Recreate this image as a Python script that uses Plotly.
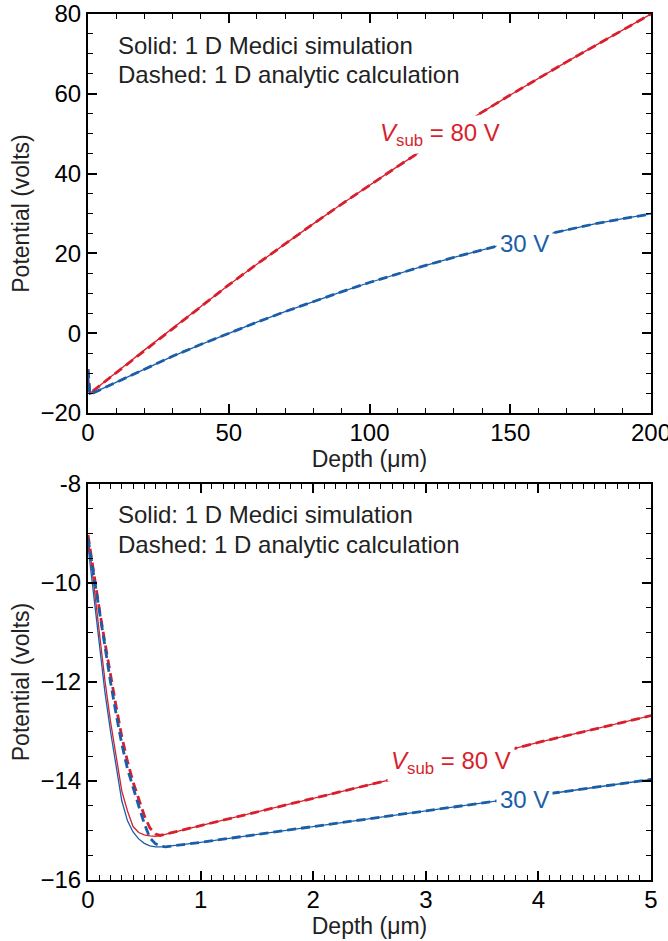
import plotly.graph_objects as go

# ---- Potential vs depth, V_sub = 80 V ----
red_sim_depth = [0, 0.05, 0.1, 0.15, 0.2, 0.25, 0.3, 0.35, 0.4, 0.45, 0.5, 0.55, 0.6, 0.65,
                 1, 2, 3, 4, 5, 10, 20, 30, 40, 50, 60, 70, 80, 90, 100,
                 110, 120, 130, 140, 150, 160, 170, 180, 190, 200]
red_sim_pot = [-9.03, -10.02, -11.0, -11.96, -12.8, -13.55, -14.2, -14.6, -14.92, -15.04, -15.09, -15.11, -15.12, -15.1,
               -14.9, -14.35, -13.8, -13.22, -12.65, -9.85, -4.25, 1.2, 6.7, 12.1, 17.3, 22.4, 27.4, 32.3, 37.1,
               41.8, 46.4, 51.0, 55.4, 59.7, 63.9, 68.0, 72.0, 76.0, 80.0]

red_ana_depth = [0, 0.05, 0.1, 0.15, 0.2, 0.25, 0.3, 0.35, 0.4, 0.45, 0.5, 0.55, 0.6, 0.64,
                 1, 2, 3, 4, 5, 10, 20, 30, 40, 50, 60, 70, 80, 90, 100,
                 110, 120, 130, 140, 150, 160, 170, 180, 190, 200]
red_ana_pot = [-9.03, -9.8, -10.52, -11.2, -11.88, -12.5, -13.1, -13.6, -14.02, -14.38, -14.7, -14.95, -15.07, -15.1,
               -14.9, -14.35, -13.8, -13.22, -12.65, -9.85, -4.25, 1.2, 6.7, 12.1, 17.3, 22.4, 27.4, 32.3, 37.1,
               41.8, 46.4, 51.0, 55.4, 59.7, 63.9, 68.0, 72.0, 76.0, 80.0]

# ---- Potential vs depth, V_sub = 30 V ----
blue_sim_depth = [0, 0.05, 0.1, 0.15, 0.2, 0.25, 0.3, 0.35, 0.4, 0.45, 0.5, 0.55, 0.6, 0.65, 0.7,
                  1, 2, 3, 4, 5, 10, 20, 30, 40, 50, 60, 70, 80, 90, 100,
                  110, 120, 130, 140, 150, 160, 170, 180, 190, 200]
blue_sim_pot = [-9.25, -10.2, -11.2, -12.2, -13.0, -13.7, -14.4, -14.8, -15.03, -15.17, -15.26, -15.31, -15.33, -15.33, -15.32,
                -15.24, -14.92, -14.6, -14.28, -13.97, -12.32, -9.0, -5.8, -2.85, 0.0, 2.75, 5.4, 7.9, 10.35, 12.7,
                14.9, 17.0, 19.0, 20.9, 22.7, 24.3, 25.9, 27.4, 28.7, 29.9]

blue_ana_depth = [0, 0.05, 0.1, 0.15, 0.2, 0.25, 0.3, 0.35, 0.4, 0.45, 0.5, 0.55, 0.6, 0.65, 0.69,
                  1, 2, 3, 4, 5, 10, 20, 30, 40, 50, 60, 70, 80, 90, 100,
                  110, 120, 130, 140, 150, 160, 170, 180, 190, 200]
blue_ana_pot = [-9.1, -9.85, -10.6, -11.3, -12.0, -12.65, -13.25, -13.75, -14.15, -14.5, -14.86, -15.15, -15.27, -15.32, -15.33,
                -15.24, -14.92, -14.6, -14.28, -13.97, -12.32, -9.0, -5.8, -2.85, 0.0, 2.75, 5.4, 7.9, 10.35, 12.7,
                14.9, 17.0, 19.0, 20.9, 22.7, 24.3, 25.9, 27.4, 28.7, 29.9]

# Bottom panel y tick labels
zoom_yticks = [-16, -14, -12, -10, -8]
zoom_yticktext = ["\u221216", "\u221214", "\u221212", "\u221210", "-8"]

RED = "#d71f2d"
BLUE = "#1a5ea8"
FONT = "Liberation Sans, Arial, Helvetica, sans-serif"

fig = go.Figure()

series = [
    (red_sim_depth, red_sim_pot, RED, "solid", 1.3),
    (blue_sim_depth, blue_sim_pot, BLUE, "solid", 1.3),
    (red_ana_depth, red_ana_pot, RED, "9px,5px", 2.8),
    (blue_ana_depth, blue_ana_pot, BLUE, "9px,5px", 2.8),
]
for xa, ya in (("x", "y"), ("x2", "y2")):
    for d, p, c, dash, w in series:
        fig.add_trace(go.Scatter(x=d, y=p, mode="lines", xaxis=xa, yaxis=ya,
                                 line=dict(color=c, width=w, dash=dash),
                                 showlegend=False, hoverinfo="skip"))

axis_common = dict(
    showline=True, linecolor="black", linewidth=2, mirror="ticks",
    ticks="inside", ticklen=9, tickwidth=1.5, tickcolor="black",
    showgrid=False, zeroline=False, ticklabeloverflow="allow", automargin=False,
    tickfont=dict(family=FONT, size=24, color="black"),
    title_font=dict(family=FONT, size=23, color="#222"),
)

top_dom = [0.5393, 1.0]
bot_dom = [0.0, 0.4573]

fig.update_layout(
    width=668, height=941,
    margin=dict(l=88, r=17, t=14, b=61),
    paper_bgcolor="white", plot_bgcolor="white",
    xaxis=dict(domain=[0, 1], anchor="y", range=[0, 200], tickvals=[0, 50, 100, 150, 200],
               minor=dict(ticks="inside", dtick=10, ticklen=5, tickwidth=1.3, tickcolor="black"),
               title=dict(text="Depth (\u03bcm)", standoff=0), ticklabelstandoff=-3, **axis_common),
    yaxis=dict(domain=top_dom, anchor="x", range=[-20, 80], tickvals=[-20, 0, 20, 40, 60, 80],
               minor=dict(ticks="inside", dtick=5, ticklen=5, tickwidth=1.3, tickcolor="black"),
               title=dict(text="Potential (volts)", standoff=4), **axis_common),
    xaxis2=dict(domain=[0, 1], anchor="y2", range=[0, 5], tickvals=[0, 1, 2, 3, 4, 5],
                minor=dict(ticks="inside", dtick=0.1, ticklen=5, tickwidth=1.3, tickcolor="black"),
                title=dict(text="Depth (\u03bcm)", standoff=0), ticklabelstandoff=-3, **axis_common),
    yaxis2=dict(domain=bot_dom, anchor="x2", range=[-16, -8], tickvals=zoom_yticks, ticktext=zoom_yticktext,
                minor=dict(ticks="inside", dtick=0.5, ticklen=5, tickwidth=1.3, tickcolor="black"),
                title=dict(text="Potential (volts)", standoff=4), **axis_common),
)

note_font = dict(family=FONT, size=24, color="#222")
for yref in ("y domain", "y2 domain"):
    xref = "x domain" if yref == "y domain" else "x2 domain"
    fig.add_annotation(x=0.05, y=0.922, xref=xref, yref=yref, xanchor="left", yanchor="middle",
                       text="Solid: 1 D Medici simulation", showarrow=False, font=note_font)
    fig.add_annotation(x=0.05, y=0.848, xref=xref, yref=yref, xanchor="left", yanchor="middle",
                       text="Dashed: 1 D analytic calculation", showarrow=False, font=note_font)

label_80 = "<i>V</i><sub>sub</sub> = 80 V"
label_30 = "30 V"
labels = [
    ("x", "y", 125, 49.7, label_80, RED),
    ("x", "y", 155.2, 22.6, label_30, BLUE),
    ("x2", "y2", 3.22, -13.62, label_80, RED),
    ("x2", "y2", 3.88, -14.38, label_30, BLUE),
]
for xr, yr, x, y, t, c in labels:
    fig.add_annotation(x=x, y=y, xref=xr, yref=yr, text=t, showarrow=False,
                       font=dict(family=FONT, size=24, color=c),
                       bgcolor="white", borderpad=3)

fig.write_html("out.html")
